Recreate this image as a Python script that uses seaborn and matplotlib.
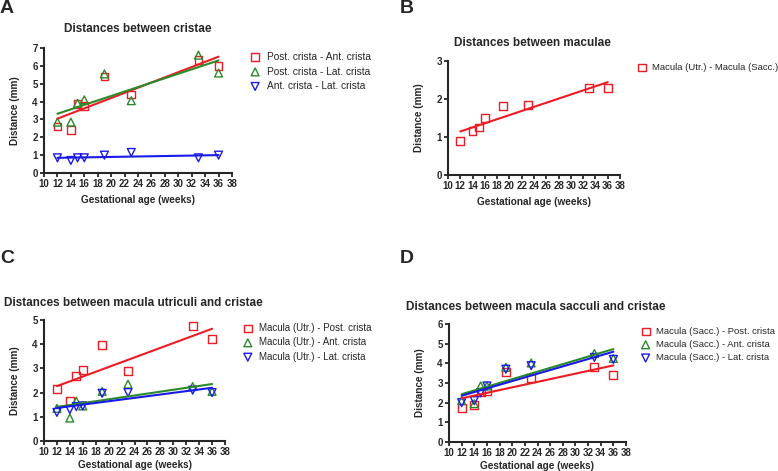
import numpy as np
import pandas as pd
import matplotlib
matplotlib.use("Agg")
import matplotlib.pyplot as plt
import seaborn as sns

sns.set_style("ticks")
plt.rcParams['font.family'] = ['Liberation Sans', 'DejaVu Sans']

# gestational age (weeks) of the specimens
age = [12, 14, 15, 16, 19, 23, 33, 36]

# A - distances between cristae (mm)
post_ant = [2.6, 2.4, 3.85, 3.75, 5.4, 4.4, 6.35, 6.0]
post_lat = [2.85, 2.85, 3.9, 4.1, 5.55, 4.05, 6.6, 5.6]
ant_lat = [0.85, 0.7, 0.85, 0.85, 1.0, 1.15, 0.85, 1.0]

# B - distance between maculae (mm)
utr_sacc = [0.9, 1.15, 1.25, 1.5, 1.82, 1.85, 2.3, 2.28]

# C - macula utriculi to cristae (mm)
utr_post = [2.15, 1.65, 2.7, 2.93, 3.97, 2.9, 4.75, 4.2]
utr_ant = [1.35, 0.95, 1.65, 1.45, 2.05, 2.35, 2.25, 2.05]
utr_lat = [1.18, 1.3, 1.42, 1.45, 1.97, 2.0, 2.1, 2.0]

# D - macula sacculi to cristae (mm)
sacc_post = [1.72, 1.9, 2.55, 2.58, 3.55, 3.25, 3.82, 3.42]
sacc_ant = [2.1, 1.95, 2.85, 2.85, 3.8, 4.02, 4.5, 4.25]
sacc_lat = [2.0, 2.1, 2.5, 2.85, 3.7, 3.88, 4.3, 4.2]

RED, GREEN, BLUE = "#ec1c24", "#2a8a2a", "#1a1ae6"
styles = [("s", RED), ("^", GREEN), ("v", BLUE)]

fig = plt.figure(figsize=(7.78, 4.71), dpi=100)


def panel(rect, series, labels, ymax, title, title_xy, letter, letter_xy, leg_xy,
          leg_fs=7, xpad=4):
    ax = fig.add_axes(rect)
    for (mk, col), vals, lab in zip(styles, series, labels):
        df = pd.DataFrame({"age": age, "dist": vals})
        sns.regplot(data=df, x="age", y="dist", scatter=False, ci=None, ax=ax,
                    line_kws=dict(color=col, lw=1.5))
        sns.scatterplot(data=df, x="age", y="dist", marker=mk, s=32, ax=ax,
                        facecolor="none", edgecolor=col, linewidth=1.0, label=lab)
    ax.set_xlim(10, 38)
    ax.set_ylim(0, ymax)
    ax.set_xticks(np.arange(10, 39, 2))
    ax.set_yticks(np.arange(0, ymax + 1, 1))
    for lbl in ax.get_xticklabels() + ax.get_yticklabels():
        lbl.set_fontweight("bold")
    ax.tick_params(labelsize=7, width=1.3, length=3, pad=1.5)
    for s in ["left", "bottom"]:
        ax.spines[s].set_linewidth(1.5)
    sns.despine(ax=ax)
    ax.set_xlabel("Gestational age (weeks)", fontsize=7.2, fontweight="bold", labelpad=xpad)
    ax.set_ylabel("Distance (mm)", fontsize=7.2, fontweight="bold", labelpad=9)
    ax.legend(loc="upper left", bbox_to_anchor=leg_xy, bbox_transform=fig.transFigure,
              frameon=False, fontsize=leg_fs, borderaxespad=0, borderpad=0,
              handlelength=1.4, handletextpad=0.45, labelspacing=0.45, markerscale=1.0)
    fig.text(title_xy[0] / 778, 1 - title_xy[1] / 471, title, ha="center", va="center",
             fontsize=8.5, fontweight="bold")
    fig.text(letter_xy[0] / 778, 1 - letter_xy[1] / 471, letter, ha="left", va="top",
             fontsize=14, fontweight="bold")
    return ax


panel([44 / 778, 1 - 173 / 471, 188 / 778, 125 / 471],
      [post_ant, post_lat, ant_lat],
      ["Post. crista - Ant. crista", "Post. crista - Lat. crista", "Ant. crista - Lat. crista"],
      7, "Distances between cristae", (138, 29), "A", (0, 0), (248 / 778, 1 - 52 / 471),
      leg_fs=7.3)

panel([448 / 778, 1 - 175 / 471, 172 / 778, 114 / 471],
      [utr_sacc],
      ["Macula (Utr.) - Macula (Sacc.)"],
      3, "Distances between maculae", (532, 43), "B", (400, 0), (635 / 778, 1 - 63 / 471),
      leg_fs=6.8)

panel([44 / 778, 1 - 441 / 471, 181 / 778, 121 / 471],
      [utr_post, utr_ant, utr_lat],
      ["Macula (Utr.) - Post. crista", "Macula (Utr.) - Ant. crista", "Macula (Utr.) - Lat. crista"],
      5, "Distances between macula utriculi and cristae", (133, 303), "C", (0, 250),
      (241 / 778, 1 - 323 / 471), leg_fs=7.0, xpad=2)

panel([449 / 778, 1 - 442 / 471, 177 / 778, 118 / 471],
      [sacc_post, sacc_ant, sacc_lat],
      ["Macula (Sacc.) - Post. crista", "Macula (Sacc.) - Ant. crista", "Macula (Sacc.) - Lat. crista"],
      6, "Distances between macula sacculi and cristae", (536, 307), "D", (400, 250),
      (639 / 778, 1 - 327 / 471), leg_fs=6.8, xpad=2)

fig.savefig("out.png", dpi=100)
